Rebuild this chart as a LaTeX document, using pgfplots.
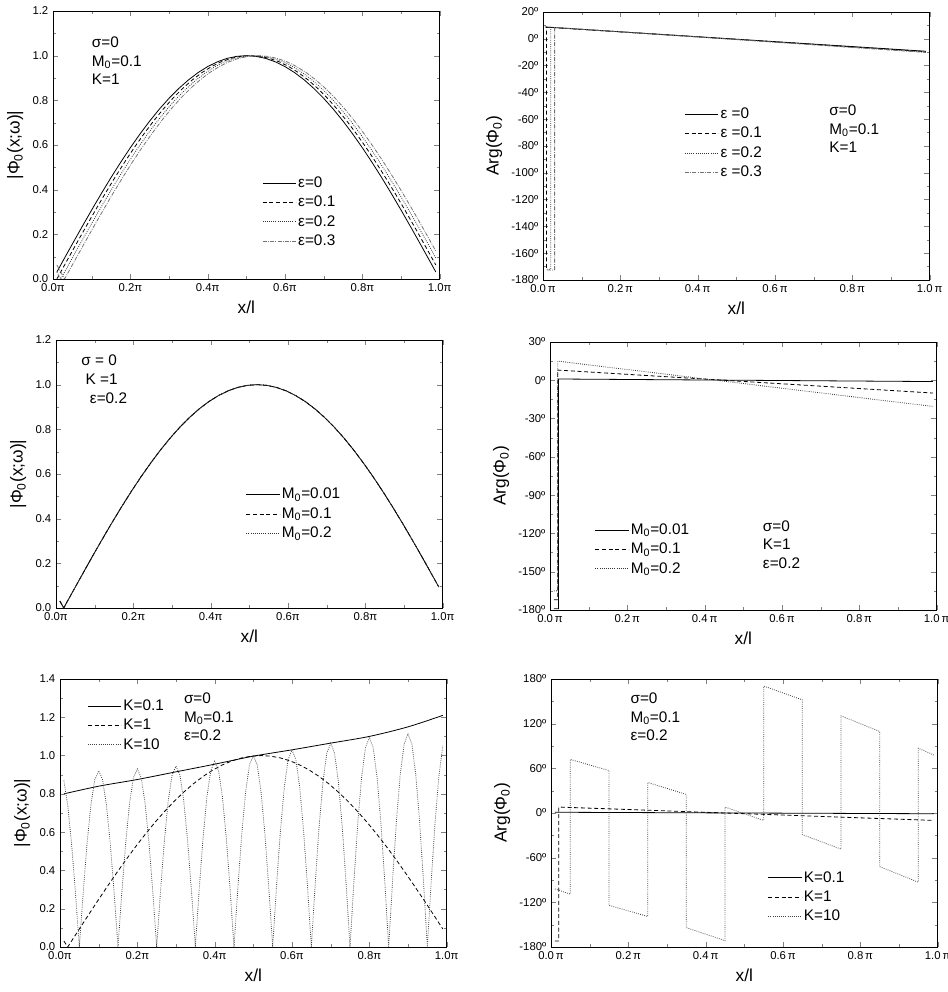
\documentclass[border=0pt]{standalone}
\usepackage{fontspec}
\setmainfont{Liberation Sans}
\usepackage{pgfplots}
\pgfplotsset{compat=1.18}
\usepackage{pgfplotstable}

\pgfplotstableread{
x y
0.01 0.0314
0.025 0.0785
0.05 0.1564
0.075 0.2334
0.1 0.3090
0.125 0.3827
0.15 0.4540
0.175 0.5225
0.2 0.5878
0.225 0.6494
0.25 0.7071
0.275 0.7604
0.3 0.8090
0.325 0.8526
0.35 0.8910
0.375 0.9239
0.4 0.9511
0.425 0.9724
0.45 0.9877
0.475 0.9969
0.5 1.0000
0.525 0.9969
0.55 0.9877
0.575 0.9724
0.6 0.9511
0.625 0.9239
0.65 0.8910
0.675 0.8526
0.7 0.8090
0.725 0.7604
0.75 0.7071
0.775 0.6494
0.8 0.5878
0.825 0.5225
0.85 0.4540
0.875 0.3827
0.9 0.3090
0.925 0.2334
0.95 0.1564
0.975 0.0785
0.99 0.0314
}\epsA

\pgfplotstableread{
x y
0.01 0.0000
0.035 0.0785
0.06 0.1564
0.085 0.2334
0.11 0.3090
0.135 0.3827
0.16 0.4540
0.185 0.5225
0.21 0.5878
0.235 0.6494
0.26 0.7071
0.285 0.7604
0.31 0.8090
0.335 0.8526
0.36 0.8910
0.385 0.9239
0.41 0.9511
0.435 0.9724
0.46 0.9877
0.485 0.9969
0.51 1.0000
0.535 0.9969
0.56 0.9877
0.585 0.9724
0.61 0.9511
0.635 0.9239
0.66 0.8910
0.685 0.8526
0.71 0.8090
0.735 0.7604
0.76 0.7071
0.785 0.6494
0.81 0.5878
0.835 0.5225
0.86 0.4540
0.885 0.3827
0.91 0.3090
0.935 0.2334
0.96 0.1564
0.985 0.0785
0.99 0.0628
}\epsB

\pgfplotstableread{
x y
0.01 0.0314
0.02 0.0000
0.045 0.0785
0.07 0.1564
0.095 0.2334
0.12 0.3090
0.145 0.3827
0.17 0.4540
0.195 0.5225
0.22 0.5878
0.245 0.6494
0.27 0.7071
0.295 0.7604
0.32 0.8090
0.345 0.8526
0.37 0.8910
0.395 0.9239
0.42 0.9511
0.445 0.9724
0.47 0.9877
0.495 0.9969
0.52 1.0000
0.545 0.9969
0.57 0.9877
0.595 0.9724
0.62 0.9511
0.645 0.9239
0.67 0.8910
0.695 0.8526
0.72 0.8090
0.745 0.7604
0.77 0.7071
0.795 0.6494
0.82 0.5878
0.845 0.5225
0.87 0.4540
0.895 0.3827
0.92 0.3090
0.945 0.2334
0.97 0.1564
0.99 0.0941
}\epsC

\pgfplotstableread{
x y
0.01 0.0628
0.03 0.0000
0.055 0.0785
0.08 0.1564
0.105 0.2334
0.13 0.3090
0.155 0.3827
0.18 0.4540
0.205 0.5225
0.23 0.5878
0.255 0.6494
0.28 0.7071
0.305 0.7604
0.33 0.8090
0.355 0.8526
0.38 0.8910
0.405 0.9239
0.43 0.9511
0.455 0.9724
0.48 0.9877
0.505 0.9969
0.53 1.0000
0.555 0.9969
0.58 0.9877
0.605 0.9724
0.63 0.9511
0.655 0.9239
0.68 0.8910
0.705 0.8526
0.73 0.8090
0.755 0.7604
0.78 0.7071
0.805 0.6494
0.83 0.5878
0.855 0.5225
0.88 0.4540
0.905 0.3827
0.93 0.3090
0.955 0.2334
0.98 0.1564
0.99 0.1253
}\epsD

\pgfplotstableread{
x y
0.01 0.870
0.02 0.740
0.03 0.538
0.04 0.283
0.05 0
0.06 0.284
0.07 0.541
0.08 0.744
0.09 0.875
0.10 0.920
0.11 0.875
0.12 0.744
0.13 0.541
0.14 0.284
0.15 0
0.16 0.287
0.17 0.547
0.18 0.752
0.19 0.884
0.20 0.930
0.21 0.884
0.22 0.752
0.23 0.547
0.24 0.287
0.25 0
0.26 0.292
0.27 0.556
0.28 0.765
0.29 0.899
0.30 0.945
0.31 0.899
0.32 0.765
0.33 0.556
0.34 0.292
0.35 0
0.36 0.300
0.37 0.570
0.38 0.785
0.39 0.922
0.40 0.970
0.41 0.922
0.42 0.785
0.43 0.570
0.44 0.300
0.45 0
0.46 0.309
0.47 0.588
0.48 0.809
0.49 0.951
0.50 1.000
0.51 0.951
0.52 0.809
0.53 0.588
0.54 0.309
0.55 0
0.56 0.318
0.57 0.606
0.58 0.833
0.59 0.980
0.60 1.030
0.61 0.980
0.62 0.833
0.63 0.606
0.64 0.318
0.65 0
0.66 0.329
0.67 0.626
0.68 0.862
0.69 1.013
0.70 1.065
0.71 1.013
0.72 0.862
0.73 0.626
0.74 0.329
0.75 0
0.76 0.338
0.77 0.644
0.78 0.886
0.79 1.041
0.80 1.095
0.81 1.041
0.82 0.886
0.83 0.644
0.84 0.338
0.85 0
0.86 0.345
0.87 0.656
0.88 0.902
0.89 1.060
0.90 1.115
0.91 1.060
0.92 0.902
0.93 0.656
0.94 0.345
0.95 0
0.96 0.341
0.97 0.650
0.98 0.894
0.99 1.051
}\kten

\tikzset{ann/.style={anchor=north west, align=left, font=\fontsize{11.5}{14}\selectfont, inner sep=0pt}}

\pgfplotsset{
  panel/.style={
    width=290pt, height=201pt, scale only axis, anchor=south west,
    xmin=0, xmax=1,
    xtick={0,0.2,0.4,0.6,0.8,1},
    minor x tick num=1, minor y tick num=1,
    tick align=inside,
    major tick length=4pt, minor tick length=2.2pt,
    tick label style={font=\fontsize{8.5}{9}\selectfont},
    label style={font=\fontsize{13}{14}\selectfont},
    xlabel={x/l},
    axis line style={line width=0.7pt},
    every axis plot/.append style={line width=0.6pt},
    legend cell align=left,
    legend style={draw=none, fill=none, font=\fontsize{11.5}{13}\selectfont, anchor=north west, row sep=2.2pt,
      nodes={inner sep=1.4pt}},
    legend image code/.code={\draw[##1] (0pt,0pt) -- (25pt,0pt);},
  },
  magy/.style={ymin=0, ymax=1.2, ytick={0,0.2,0.4,0.6,0.8,1.0,1.2},
    yticklabels={0.0,0.2,0.4,0.6,0.8,1.0,1.2},
    ylabel={|Φ\textsubscript{0}(x;ω)|},
    xticklabels={0.0π,0.2π,0.4π,0.6π,0.8π,1.0π}},
  argx/.style={xticklabels={0.0\,π,0.2\,π,0.4\,π,0.6\,π,0.8\,π,1.0\,π}, ylabel={Arg(Φ\textsubscript{0})}},
}

\begin{document}
\begin{tikzpicture}
\useasboundingbox (0,0) rectangle (711pt,744pt);

% Panel 1
\begin{axis}[panel, magy, at={(39.75pt,534.75pt)},
  legend style={at={(0.53,0.40)}}]
\addplot[black, solid] table {\epsA};
\addplot[black, densely dashed] table {\epsB};
\addplot[black!80, densely dotted] table {\epsC};
\addplot[black!55, densely dashdotted] table {\epsD};
\legend{ε=0, ε=0.1, ε=0.2, ε=0.3}
\node[ann] at (rel axis cs:0.10,0.905) {σ=0\\M\textsubscript{0}=0.1\\K=1};
\end{axis}

% Panel 2
\begin{axis}[panel, argx, at={(407.25pt,534pt)},
  ymin=-180, ymax=20, ytick={-180,-160,-140,-120,-100,-80,-60,-40,-20,0,20},
  yticklabels={-180º,-160º,-140º,-120º,-100º,-80º,-60º,-40º,-20º,0º,20º},
  legend style={at={(0.355,0.66)}}]
\addplot[black, solid] coordinates {(0.005,8.8) (0.5,-0.3) (0.99,-9.3)};
\addplot[black, densely dashed] coordinates {(0.009,-171) (0.009,8.7) (0.5,-0.4) (0.99,-9.6)};
\addplot[black!80, densely dotted] coordinates {(0.01,-172) (0.02,-172) (0.02,8.6) (0.5,-0.5) (0.99,-9.9)};
\addplot[black!55, densely dashdotted] coordinates {(0.01,-172.5) (0.03,-172.5) (0.03,8.5) (0.5,-0.6) (0.99,-10.2)};
\legend{ε =0, ε =0.1, ε =0.2, ε =0.3}
\node[ann] at (rel axis cs:0.74,0.655) {σ=0\\M\textsubscript{0}=0.1\\K=1};
\end{axis}

% Panel 3
\begin{axis}[panel, magy, at={(42pt,288pt)},
  legend style={at={(0.48,0.465)}}]
\addplot[black, solid] table {\epsC};
\addplot[black, densely dashed] table {\epsC};
\addplot[black!80, densely dotted] table {\epsC};
\legend{M\textsubscript{0}=0.01, M\textsubscript{0}=0.1, M\textsubscript{0}=0.2}
\node[ann] at (rel axis cs:0.065,0.945) {σ = 0\\\ K =1\\\ \ ε=0.2};
\end{axis}

% Panel 4
\begin{axis}[panel, argx, at={(412.5pt,286.5pt)},
  ymin=-180, ymax=30, ytick={-180,-150,-120,-90,-60,-30,0,30},
  yticklabels={-180º,-150º,-120º,-90º,-60º,-30º,0º,30º},
  legend style={at={(0.105,0.34)}}]
\addplot[black, solid] coordinates {(0.01,-179) (0.022,-179) (0.022,1.0) (0.99,-1.0)};
\addplot[black, densely dashed] coordinates {(0.01,-172) (0.02,-172) (0.02,8) (0.99,-10)};
\addplot[black!80, densely dotted] coordinates {(0.01,-165) (0.02,-165) (0.02,15) (0.99,-20.5)};
\legend{M\textsubscript{0}=0.01, M\textsubscript{0}=0.1, M\textsubscript{0}=0.2}
\node[ann] at (rel axis cs:0.55,0.335) {σ=0\\K=1\\ε=0.2};
\end{axis}

% Panel 5
\begin{axis}[panel, at={(45pt,33.75pt)},
  ymin=0, ymax=1.4, ytick={0,0.2,0.4,0.6,0.8,1.0,1.2,1.4},
  yticklabels={0.0,0.2,0.4,0.6,0.8,1.0,1.2,1.4},
  ylabel={|Φ\textsubscript{0}(x;ω)|},
  xticklabels={0.0π,0.2π,0.4π,0.6π,0.8π,1.0π},
  legend style={at={(0.06,0.94)}}]
\addplot[black, solid, smooth] coordinates {(0.01,0.80) (0.1,0.84) (0.2,0.875) (0.3,0.915) (0.4,0.955) (0.5,0.997) (0.6,1.03) (0.7,1.065) (0.8,1.10) (0.9,1.15) (0.99,1.21)};
\addplot[black, densely dashed] table {\epsC};
\addplot[black!75, densely dotted] table {\kten};
\legend{K=0.1, K=1, K=10}
\node[ann] at (rel axis cs:0.32,0.95) {σ=0\\M\textsubscript{0}=0.1\\ε=0.2};
\end{axis}

% Panel 6
\begin{axis}[panel, argx, at={(413.25pt,33.75pt)},
  ymin=-180, ymax=180, ytick={-180,-120,-60,0,60,120,180},
  yticklabels={-180º,-120º,-60º,0º,60º,120º,180º},
  legend style={at={(0.55,0.30)}}]
\addplot[black, solid] coordinates {(0.01,1) (0.99,-1)};
\addplot[black, densely dashed] coordinates {(0.01,-172) (0.02,-172) (0.02,8) (0.99,-10)};
\addplot[black!75, densely dotted] coordinates {(0.01,-102) (0.05,-109) (0.05,72) (0.15,57) (0.15,-124) (0.25,-139) (0.25,41) (0.35,25) (0.35,-154) (0.45,-171.5) (0.45,8) (0.55,-10) (0.55,170.5) (0.65,152) (0.65,-29) (0.75,-48.5) (0.75,130.5) (0.85,109.5) (0.85,-72) (0.95,-93) (0.95,87) (0.99,78)};
\legend{K=0.1, K=1, K=10}
\node[ann] at (rel axis cs:0.205,0.95) {σ=0\\M\textsubscript{0}=0.1\\ε=0.2};
\end{axis}
\end{tikzpicture}
\end{document}
